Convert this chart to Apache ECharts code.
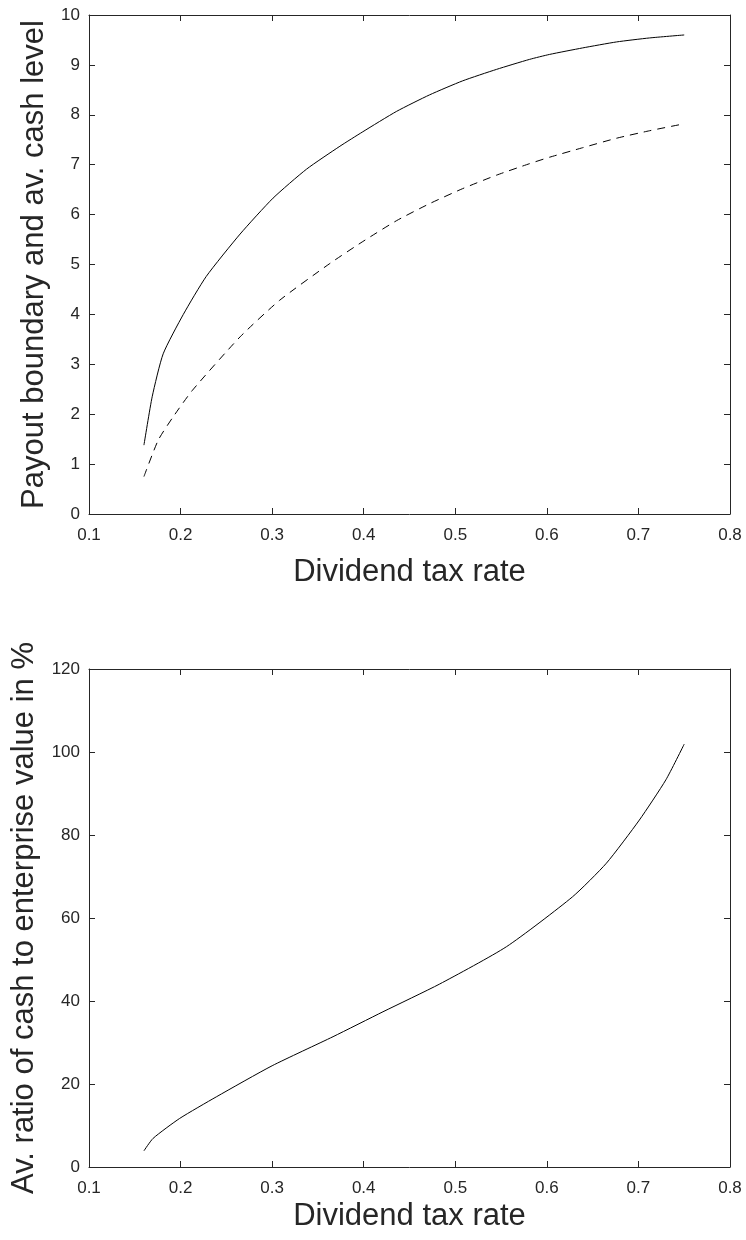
<!DOCTYPE html>
<html>
<head>
<meta charset="utf-8">
<script src="https://cdn.jsdelivr.net/npm/echarts@6/dist/echarts.min.js"></script>
<style>
	html, body { margin: 0; padding: 0; background: #fff; }
	#chart { width: 746px; height: 1240px; }
</style>
</head>
<body>
<div id="chart"></div>
<script>
	// upper panel: payout boundary (solid) and average cash level (dashed)
	var taxUpper = [0.160, 0.169, 0.181, 0.203, 0.228, 0.265, 0.301, 0.3375, 0.374, 0.399, 0.436, 0.472, 0.508, 0.545, 0.581, 0.603, 0.639, 0.676, 0.712, 0.750];
	var payoutBoundary = [1.38, 2.35, 3.21, 4.00, 4.76, 5.61, 6.33, 6.91, 7.37, 7.66, 8.07, 8.40, 8.68, 8.91, 9.11, 9.21, 9.34, 9.46, 9.54, 9.60];
	var taxCash = [0.160, 0.1756, 0.192, 0.213, 0.265, 0.308, 0.363, 0.399, 0.436, 0.472, 0.508, 0.545, 0.581, 0.603, 0.639, 0.676, 0.712, 0.750];
	var avgCash = [0.75, 1.48, 1.95, 2.48, 3.55, 4.28, 5.02, 5.46, 5.88, 6.22, 6.52, 6.79, 7.02, 7.15, 7.34, 7.53, 7.68, 7.82];
	// lower panel: cash to enterprise value ratio in %
	var taxRatio = [0.160, 0.170, 0.199, 0.239, 0.300, 0.3665, 0.421, 0.483, 0.556, 0.628, 0.665, 0.701, 0.730, 0.750];
	var cashRatio = [3.9, 6.9, 11.7, 16.9, 24.4, 31.4, 37.4, 44.1, 53.1, 65.1, 73.2, 83.6, 93.3, 101.9];

	function pairs(xs, ys) {
		return xs.map(function (x, i) { return [x, ys[i]]; });
	}

	var font = 'Liberation Sans, Arial, Helvetica, sans-serif';
	var ink = '#262626';

	function xAx(grid, pos, title, nameGap) {
		return {
			type: 'value', gridIndex: grid, position: pos,
			min: 0.1, max: 0.8, interval: 0.1,
			name: title, nameLocation: 'middle', nameGap: nameGap,
			nameTextStyle: { fontFamily: font, fontSize: 31, color: ink },
			axisLine: { show: true, onZero: false, lineStyle: { color: ink, width: 1 } },
			axisTick: { show: true, inside: true, length: 6, lineStyle: { color: ink } },
			axisLabel: {
				show: pos === 'bottom', margin: 13, fontFamily: font, fontSize: 17, color: ink,
				formatter: function (v) { return v.toFixed(1); }
			},
			splitLine: { show: false }
		};
	}

	function yAx(grid, pos, max, interval, title, nameGap) {
		return {
			type: 'value', gridIndex: grid, position: pos,
			min: 0, max: max, interval: interval,
			name: title, nameLocation: 'middle', nameGap: nameGap,
			nameTextStyle: { fontFamily: font, fontSize: 31, color: ink },
			axisLine: { show: true, onZero: false, lineStyle: { color: ink, width: 1 } },
			axisTick: { show: true, inside: true, length: 6, lineStyle: { color: ink } },
			axisLabel: { show: pos === 'left', margin: 9, fontFamily: font, fontSize: 17, color: ink },
			splitLine: { show: false }
		};
	}

	function curve(xi, yi, data, dash) {
		return {
			type: 'line', xAxisIndex: xi, yAxisIndex: yi,
			smooth: 0.2, symbol: 'none',
			lineStyle: { color: '#000', width: 1, type: dash || 'solid' },
			data: data
		};
	}

	var chart = echarts.init(document.getElementById('chart'), null, { renderer: 'canvas' });
	chart.setOption({
		animation: false,
		backgroundColor: '#ffffff',
		grid: [
			{ left: 89, right: 16, top: 15, height: 499 },
			{ left: 89, right: 16, top: 669, height: 498 }
		],
		xAxis: [
			xAx(0, 'bottom', 'Dividend tax rate', 43),
			xAx(0, 'top', '', 0),
			xAx(1, 'bottom', 'Dividend tax rate', 34),
			xAx(1, 'top', '', 0)
		],
		yAxis: [
			yAx(0, 'left', 10, 1, 'Payout boundary and av. cash level', 39),
			yAx(0, 'right', 10, 1, '', 0),
			yAx(1, 'left', 120, 20, 'Av. ratio of cash to enterprise value in %', 49),
			yAx(1, 'right', 120, 20, '', 0)
		],
		series: [
			curve(0, 0, pairs(taxUpper, payoutBoundary)),
			curve(0, 0, pairs(taxCash, avgCash), [8, 6]),
			curve(2, 2, pairs(taxRatio, cashRatio))
		]
	});
</script>
</body>
</html>
